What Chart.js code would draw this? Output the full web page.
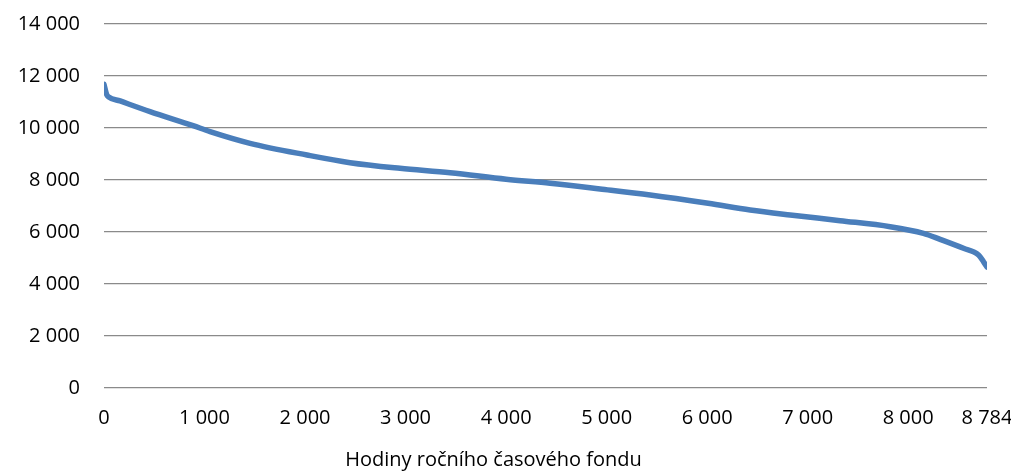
<!DOCTYPE html>
<html>
<head>
<meta charset="utf-8">
<script src="https://cdn.jsdelivr.net/npm/chart.js@4"></script>
<style>
html,body{margin:0;padding:0;background:#fff;}
#wrap{width:1011px;height:473px;}
</style>
</head>
<body>
<div id="wrap"><canvas id="c" width="1011" height="473"></canvas></div>
<script>
const hours = [0, 25, 45, 160, 458, 886, 1055, 1453, 2020, 2448, 2945, 3443, 4000, 4438, 4935, 5433, 6010, 6428, 6826, 7323, 7821, 8152, 8318, 8550, 8700, 8749, 8784];
const load = [11680, 11300, 11200, 11040, 10630, 10090, 9860, 9410, 8960, 8667, 8450, 8282, 8030, 7873, 7654, 7423, 7103, 6846, 6654, 6436, 6205, 5949, 5718, 5372, 5115, 4858, 4650];
const xTicks = [0, 1000, 2000, 3000, 4000, 5000, 6000, 7000, 8000, 8784];
const yTicks = [0, 2000, 4000, 6000, 8000, 10000, 12000, 14000];
const xTitle = 'Hodiny ročního časového fondu';

function fmt(v){ return String(v).replace(/\B(?=(\d{3})+(?!\d))/g, ' '); }

const FONT = {family: '"Open Sans", sans-serif', size: 20};

new Chart(document.getElementById('c'), {
  type: 'line',
  data: {
    datasets: [{
      data: hours.map((h, i) => ({x: h, y: load[i]})),
      borderColor: '#4a7ebb',
      borderWidth: 5.5,
      pointRadius: 0,
      borderCapStyle: 'round',
      borderJoinStyle: 'round',
      cubicInterpolationMode: 'monotone',
      fill: false
    }]
  },
  options: {
    responsive: false,
    animation: false,
    layout: {padding: {left: 0, right: 24, top: 24, bottom: 0}},
    plugins: {
      legend: {display: false},
      tooltip: {enabled: false},
      title: {display: true, position: 'bottom', text: xTitle, color: '#000', font: {family: '"Open Sans", sans-serif', size: 20, weight: 'normal'}, padding: {top: 18, bottom: 1}}
    },
    scales: {
      x: {
        type: 'linear',
        min: 0,
        max: 8784,
        afterBuildTicks: axis => { axis.ticks = xTicks.map(v => ({value: v})); },
        afterFit: axis => { axis.paddingLeft = 0; axis.paddingRight = 0; axis.height = 42; },
        grid: {display: false, drawTicks: false},
        border: {display: false},
        ticks: {autoSkip: false, maxRotation: 0, padding: 18, color: '#000', font: FONT, callback: v => fmt(v)}
      },
      y: {
        min: 0,
        max: 14000,
        afterBuildTicks: axis => { axis.ticks = yTicks.map(v => ({value: v})); },
        afterFit: axis => { axis.width = 104; axis.paddingTop = 0; axis.paddingBottom = 0; },
        grid: {color: '#8a8a8a', lineWidth: 1.2, drawTicks: false},
        border: {display: false},
        ticks: {padding: 24, color: '#000', font: FONT, callback: v => fmt(v)}
      }
    }
  }
});
</script>
</body>
</html>
